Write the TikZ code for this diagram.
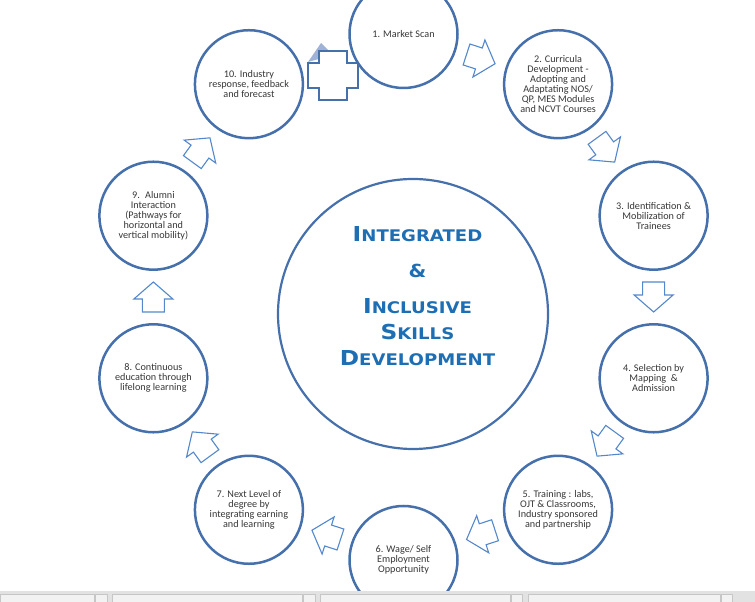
\documentclass[tikz,border=0pt]{standalone}
\usepackage{fontspec}
\setmainfont{Carlito}
\newfontfamily\hubfont[FakeStretch=1.13]{DejaVu Sans}
\usetikzlibrary{calc}
\definecolor{ringblue}{RGB}{70,112,172}
\definecolor{arrowblue}{RGB}{84,136,204}
\definecolor{hubblue}{RGB}{30,110,180}
\definecolor{stagetext}{RGB}{55,55,55}
\definecolor{wedge}{RGB}{160,178,214}
\definecolor{barline}{RGB}{198,198,198}
\definecolor{barfill}{RGB}{226,226,226}
\definecolor{panelfill}{RGB}{242,242,242}
\newcommand{\hubword}[2]{{\fontsize{20.6}{26}\selectfont #1}{\fontsize{16}{26}\selectfont #2}}

\begin{document}
\begin{tikzpicture}[line cap = round, line join = round, x=1pt, y=1pt]
\tikzstyle{stage}=[circle, draw=ringblue, line width=2.5pt, minimum size=108pt, inner sep=0pt, align=center, text=stagetext, font=\fontsize{10.2}{10}\selectfont]
\tikzstyle{hub}=[circle, draw=ringblue, line width=2.2pt, minimum size=270pt]
\tikzstyle{hubtext}=[align=center, text=hubblue, inner sep=0pt, font=\hubfont\bfseries\fontsize{16}{26}\selectfont]
\tikzstyle{blockarrow}=[draw=arrowblue, fill=white, line width=1.1pt, line join=miter]
\tikzstyle{panel}=[draw=barline, fill=panelfill, line width=0.6pt]
\useasboundingbox (0,0) rectangle (755,602);
\clip (0,0) rectangle (755,602);
\coordinate (O) at (403.5,305);

\node[stage] (S1)  at ($(O)+(90:263)$)   {1. Market Scan};
\node[stage] (S2)  at ($(O)+(54:263)$)   {2. Curricula\\Development -\\Adopting and\\Adaptating NOS/\\QP, MES Modules\\and NCVT Courses};
\node[stage] (S3)  at ($(O)+(18:263)$)   {3. Identification \&\\Mobilization of\\Trainees};
\node[stage] (S4)  at ($(O)+(-18:263)$)  {4. Selection by\\Mapping \ \&\\Admission};
\node[stage] (S5)  at ($(O)+(-54:263)$)  {5. Training : labs,\\OJT \& Classrooms,\\Industry sponsored\\and partnership};
\node[stage] (S6)  at ($(O)+(-90:263)$)  {6. Wage/ Self\\Employment\\Opportunity};
\node[stage] (S7)  at ($(O)+(-126:263)$) {7. Next Level of\\degree by\\integrating earning\\and learning};
\node[stage] (S8)  at ($(O)+(-162:263)$) {8. Continuous\\education through\\lifelong learning};
\node[stage] (S9)  at ($(O)+(162:263)$)  {9. \ Alumni\\Interaction\\(Pathways for\\horizontal and\\vertical mobility)};
\node[stage] (S10) at ($(O)+(126:263)$)  {10. Industry\\response, feedback\\and forecast};

\node[hub] (hub) at (413,288) {};
\node[hubtext] (title) at ($(hub)+(4.5,18)$) {\hubword{I}{NTEGRATED}\\[10pt]{\fontsize{18}{26}\selectfont\&}\\[10pt]\hubword{I}{NCLUSIVE}\\\hubword{S}{KILLS}\\\hubword{D}{EVELOPMENT}};

\draw[blockarrow, shift={($(S1)!.5!(S2)$)}, rotate=-18] (-15,-11) -- (-2,-11) -- (-2,-19.5) -- (15,0) -- (-2,19.5) -- (-2,11) -- (-15,11) -- cycle;
\draw[blockarrow, shift={($(S2)!.5!(S3)$)}, rotate=-54] (-15,-11) -- (-2,-11) -- (-2,-19.5) -- (15,0) -- (-2,19.5) -- (-2,11) -- (-15,11) -- cycle;
\draw[blockarrow, shift={($(S3)!.5!(S4)$)}, rotate=-90] (-15,-11) -- (-2,-11) -- (-2,-19.5) -- (15,0) -- (-2,19.5) -- (-2,11) -- (-15,11) -- cycle;
\draw[blockarrow, shift={($(S4)!.5!(S5)$)}, rotate=-126] (-15,-11) -- (-2,-11) -- (-2,-19.5) -- (15,0) -- (-2,19.5) -- (-2,11) -- (-15,11) -- cycle;
\draw[blockarrow, shift={($(S5)!.5!(S6)$)}, rotate=-162] (-15,-11) -- (-2,-11) -- (-2,-19.5) -- (15,0) -- (-2,19.5) -- (-2,11) -- (-15,11) -- cycle;
\draw[blockarrow, shift={($(S6)!.5!(S7)$)}, rotate=162] (-15,-11) -- (-2,-11) -- (-2,-19.5) -- (15,0) -- (-2,19.5) -- (-2,11) -- (-15,11) -- cycle;
\draw[blockarrow, shift={($(S7)!.5!(S8)$)}, rotate=126] (-15,-11) -- (-2,-11) -- (-2,-19.5) -- (15,0) -- (-2,19.5) -- (-2,11) -- (-15,11) -- cycle;
\draw[blockarrow, shift={($(S8)!.5!(S9)$)}, rotate=90] (-15,-11) -- (-2,-11) -- (-2,-19.5) -- (15,0) -- (-2,19.5) -- (-2,11) -- (-15,11) -- cycle;
\draw[blockarrow, shift={($(S9)!.5!(S10)$)}, rotate=54] (-15,-11) -- (-2,-11) -- (-2,-19.5) -- (15,0) -- (-2,19.5) -- (-2,11) -- (-15,11) -- cycle;

\coordinate (X) at ($(S10)!.5!(S1)+(6.8,-16.4)$);
\fill[wedge] ($(X)+(-12,32.5)$) -- ($(X)+(0,20.5)$) -- ($(X)+(-25,13.5)$) -- cycle;
\draw[draw=ringblue, fill=white, line width=2pt, line join=miter] ($(X)+(-14,24.5)$) -- ++(28,0) -- ++(0,-12) -- ++(11,0) -- ++(0,-25) -- ++(-11,0) -- ++(0,-12) -- ++(-28,0) -- ++(0,12) -- ++(-11,0) -- ++(0,25) -- ++(11,0) -- cycle;

\fill[barfill] (0,0) rectangle (755,11);
\draw[panel] (0,-1) rectangle (94,8);
\draw[panel] (95,-1) rectangle (107,8);
\draw[panel] (112,-1) rectangle (302,8);
\draw[panel] (303,-1) rectangle (315,8);
\draw[panel] (320,-1) rectangle (510,8);
\draw[panel] (511,-1) rectangle (522,8);
\draw[panel] (528,-1) rectangle (720,8);
\draw[panel] (721,-1) rectangle (732,8);
\end{tikzpicture}
\end{document}
